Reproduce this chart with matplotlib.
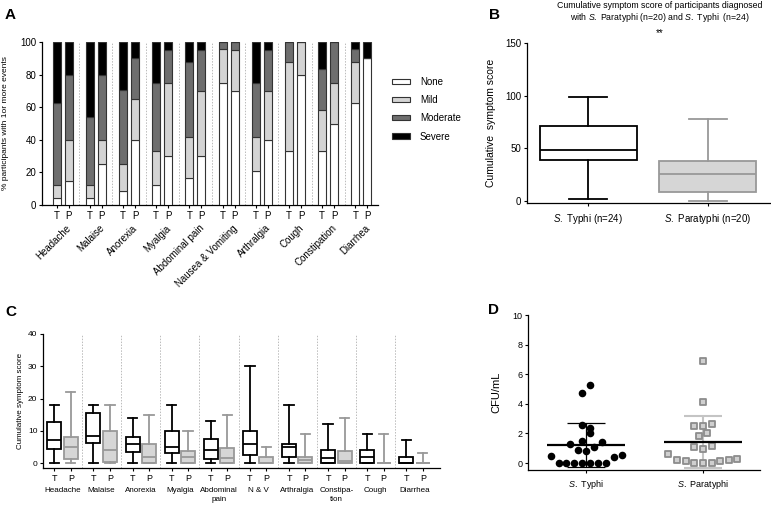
import numpy as np
import pandas as pd
import matplotlib
matplotlib.use("Agg")
import matplotlib.pyplot as plt
from matplotlib.patches import Patch

plt.rcParams['font.family'] = ['Liberation Sans', 'DejaVu Sans']
plt.rcParams['mathtext.fontset'] = 'custom'
plt.rcParams['mathtext.it'] = 'Liberation Sans:italic'
plt.rcParams['mathtext.rm'] = 'Liberation Sans'

# ---------------- Panel A data ----------------
symptoms_A = ['Headache', 'Malaise', 'Anorexia', 'Myalgia', 'Abdominal pain',
              'Nausea & Vomiting', 'Arthralgia', 'Cough', 'Constipation', 'Diarrhea']
severity_levels = ['None', 'Mild', 'Moderate', 'Severe']
T_none = [4.2, 4.2, 8.3, 12.5, 16.7, 75.0, 20.8, 33.3, 33.3, 62.5]
T_mild = [8.3, 8.3, 16.7, 20.8, 25.0, 20.8, 20.9, 54.2, 25.0, 25.0]
T_moderate = [50.0, 41.7, 45.8, 41.7, 45.8, 4.2, 33.3, 12.5, 25.0, 8.3]
T_severe = [37.5, 45.8, 29.2, 25.0, 12.5, 0.0, 25.0, 0.0, 16.7, 4.2]
P_none = [15, 25, 40, 30, 30, 70, 40, 80, 50, 90]
P_mild = [25, 15, 25, 45, 40, 25, 30, 20, 25, 0]
P_moderate = [40, 40, 25, 20, 25, 5, 25, 0, 25, 0]
P_severe = [20, 20, 10, 5, 5, 0, 5, 0, 0, 10]

# ---------------- Panel B data ----------------
groups_B = [r'$\mathit{S.}$ Typhi (n=24)', r'$\mathit{S.}$ Paratyphi (n=20)']
B_whislo = [2, 0]
B_q1 = [39, 9]
B_med = [48, 26]
B_q3 = [71, 38]
B_whishi = [99, 78]

# ---------------- Panel C data ----------------
symptoms_C = ['Headache', 'Malaise', 'Anorexia', 'Myalgia', 'Abdominal\npain',
              'N & V', 'Arthralgia', 'Constipa-\ntion', 'Cough', 'Diarrhea']
CT_whislo = [0, 0, 0, 0, 0, 0, 0, 0, 0, 0]
CT_q1 = [4.2, 6.2, 3.5, 3.0, 1.2, 2.5, 2.0, 0, 0, 0]
CT_med = [7, 8.5, 6, 5, 4, 6, 5, 1.5, 2, 0]
CT_q3 = [12.8, 15.5, 8, 9.8, 7.5, 9.8, 6, 4, 4, 2]
CT_whishi = [18, 18, 14, 18, 13, 30, 18, 12, 9, 7]
CP_whislo = [0, 0, 0, 0, 0, 0, 0, 0, 0, 0]
CP_q1 = [1.2, 0.3, 0, 0, 0, 0, 0, 0, 0, 0]
CP_med = [5, 4, 2, 2, 1.5, 0, 1, 0.5, 0, 0]
CP_q3 = [8, 9.8, 6, 3.8, 4.8, 1.8, 2, 3.8, 0, 0]
CP_whishi = [22, 18, 15, 10, 15, 5, 9, 14, 9, 3]

# ---------------- Panel D data ----------------
groups_D = [r'$\mathit{S.}$ Typhi', r'$\mathit{S.}$ Paratyphi']
D_typhi = [0.48, 0, 0, 0, 0, 0, 0, 0, 0.41, 0.55,
           1.3, 0.89, 0.82, 1.09, 1.41,
           1.5, 2.0, 2.6, 2.4, 4.7, 5.25]
D_paratyphi = [0.59, 0.2, 0.11, 0.02, 0, 0.02, 0.14, 0.2, 0.3,
               1.09, 0.98, 1.18, 1.8, 2.02, 2.52, 2.52, 2.64, 4.11, 6.9]

W, H = 771, 505
fig = plt.figure(figsize=(W / 100, H / 100), dpi=100)


def rect(l, t, r, b):
    return [l / W, 1 - b / H, (r - l) / W, (b - t) / H]


def style(ax, fs=7):
    for s in ['top', 'right']:
        ax.spines[s].set_visible(False)
    for s in ['left', 'bottom']:
        ax.spines[s].set_linewidth(0.9)
    ax.tick_params(length=2.5, width=0.8, labelsize=fs, pad=1.5)


def column_offsets(vals, row_height, step):
    """GraphPad-style column scatter: group values into rows, centre each row."""
    vals = np.asarray(vals, float)
    order = np.argsort(vals, kind='stable')
    rows, cur, start = [], [], None
    for idx in order:
        if start is None or vals[idx] - start > row_height:
            if cur:
                rows.append(cur)
            cur, start = [idx], vals[idx]
        else:
            cur.append(idx)
    rows.append(cur)
    offs = np.zeros(len(vals))
    for r in rows:
        r = sorted(r)  # keep data order within a row
        n = len(r)
        for k, idx in enumerate(r):
            offs[idx] = (k - (n - 1) / 2) * step
    return offs


# ================= Panel A =================
axA = fig.add_axes(rect(42, 42, 378, 205))
style(axA)
x = np.arange(len(symptoms_A))
off, bw = 0.18, 0.24
colors = ['white', '#d4d4d4', '#6e6e6e', 'black']
for xs, segs in [(x - off, [T_none, T_mild, T_moderate, T_severe]),
                 (x + off, [P_none, P_mild, P_moderate, P_severe])]:
    bottom = np.zeros(len(x))
    for seg, c in zip(segs, colors):
        seg = np.array(seg, float)
        axA.bar(xs, seg, bw, bottom=bottom, color=c, edgecolor='#333333',
                linewidth=0.8, zorder=3)
        bottom += seg
for i in range(len(x) - 1):
    axA.axvline(i + 0.5, color='#bbbbbb', lw=0.7, ls=(0, (1.5, 1.5)), zorder=1)
axA.set_xlim(-0.62, 9.5)
axA.set_ylim(0, 100)
axA.set_yticks([0, 20, 40, 60, 80, 100])
ticks = np.sort(np.concatenate([x - off, x + off]))
axA.set_xticks(ticks)
axA.set_xticklabels(['T', 'P'] * len(x), fontsize=7)
for i, name in enumerate(symptoms_A):
    axA.annotate(name, xy=(i + 0.1, 0), xycoords=('data', 'axes fraction'),
                 xytext=(0, -13), textcoords='offset points', ha='right', va='top',
                 rotation=45, rotation_mode='anchor', fontsize=7)
axA.set_ylabel('% participants with 1or more events', fontsize=6, labelpad=8)

fig.legend(handles=[Patch(facecolor=c, edgecolor='#333333', lw=0.8) for c in colors],
           labels=severity_levels, loc='upper left',
           bbox_to_anchor=(383 / W, 1 - 68 / H), frameon=False, fontsize=7,
           handlelength=1.9, handleheight=0.45, labelspacing=0.85, handletextpad=1.0)

# ================= Panel B =================
axB = fig.add_axes(rect(527, 43, 770, 203.3))
style(axB)
statsB = [dict(med=B_med[i], q1=B_q1[i], q3=B_q3[i], whislo=B_whislo[i],
               whishi=B_whishi[i], fliers=[]) for i in range(2)]
for i, (ec, fc) in enumerate([('black', 'white'), ('#999999', '#d6d6d6')]):
    lw = 1.3
    axB.bxp([statsB[i]], positions=[i], widths=0.81, patch_artist=True,
            showfliers=False, capwidths=0.32,
            boxprops=dict(facecolor=fc, edgecolor=ec, linewidth=lw),
            medianprops=dict(color=ec, linewidth=lw),
            whiskerprops=dict(color=ec, linewidth=lw),
            capprops=dict(color=ec, linewidth=lw))
axB.set_xlim(-0.51, 1.52)
axB.set_ylim(-2.2, 150)
axB.set_yticks([0, 50, 100, 150])
axB.set_xticks([0, 1])
axB.set_xticklabels(groups_B, fontsize=7)
axB.tick_params(axis='x', pad=4)
axB.set_ylabel('Cumulative  symptom score', fontsize=7.5, labelpad=7)
fig.text(660 / W, 1 - 0.5 / H,
         'Cumulative symptom score of participants diagnosed\n'
         r'with $\mathit{S.}$ Paratyphi (n=20) and $\mathit{S.}$ Typhi  (n=24)',
         ha='center', va='top', fontsize=6.3, linespacing=1.15)
fig.text(660 / W, 1 - 33 / H, '**', ha='center', va='center', fontsize=7)

# ================= Panel C =================
axC = fig.add_axes(rect(43, 334, 440, 468))
style(axC, fs=6)
xc = np.arange(len(symptoms_C))
offc = 0.21
for xs, (lo, q1, med, q3, hi), ec, fc in [
        (xc - offc, (CT_whislo, CT_q1, CT_med, CT_q3, CT_whishi), 'black', 'white'),
        (xc + offc, (CP_whislo, CP_q1, CP_med, CP_q3, CP_whishi), '#999999', '#d6d6d6')]:
    stats = [dict(med=med[i], q1=q1[i], q3=q3[i], whislo=lo[i], whishi=hi[i],
                  fliers=[]) for i in range(len(xc))]
    axC.bxp(stats, positions=xs, widths=0.36, patch_artist=True, showfliers=False,
            capwidths=0.24,
            boxprops=dict(facecolor=fc, edgecolor=ec, linewidth=1.3),
            medianprops=dict(color=ec, linewidth=1.3),
            whiskerprops=dict(color=ec, linewidth=1.3),
            capprops=dict(color=ec, linewidth=1.3))
for i in range(len(xc) - 1):
    axC.axvline(i + 0.5, color='#bbbbbb', lw=0.7, ls=(0, (1.5, 1.5)), zorder=0)
axC.set_xlim(-0.5, 9.65)
axC.set_ylim(-1.55, 40)
axC.set_yticks([0, 10, 20, 30, 40])
ticksC = np.sort(np.concatenate([xc - offc, xc + offc]))
axC.set_xticks(ticksC)
axC.set_xticklabels(['T', 'P'] * len(xc), fontsize=6.5)
for i, name in enumerate(symptoms_C):
    axC.annotate(name, xy=(i, 0), xycoords=('data', 'axes fraction'),
                 xytext=(0, -14), textcoords='offset points', ha='center', va='top',
                 fontsize=5.8, linespacing=1.25)
axC.set_ylabel('Cumulative symptom score', fontsize=5.8, labelpad=3)

# ================= Panel D =================
axD = fig.add_axes(rect(528, 315, 760, 470))
style(axD, fs=6.5)
offT = column_offsets(D_typhi, 0.6, 0.068)
offP = column_offsets(D_paratyphi, 0.6, 0.074)
axD.scatter(0 + offT, D_typhi, s=30, marker='o', color='black', linewidths=0,
            zorder=3)
axD.scatter(1 + offP, D_paratyphi, s=24, marker='s', facecolor='#cfcfcf',
            edgecolor='#8c8c8c', linewidths=1.3, zorder=3)
for i, (vals, ec, elw) in enumerate([(D_typhi, 'black', 0.9),
                                     (D_paratyphi, '#c4c4c4', 1.5)]):
    m = np.mean(vals)
    sd = np.std(vals, ddof=1)
    axD.errorbar([i], [m], yerr=[sd], color=ec, lw=elw, capsize=14,
                 capthick=elw, zorder=2)
    axD.hlines(m, i - 0.335, i + 0.335, color='black', lw=1.6, zorder=4)
axD.set_xlim(-0.5, 1.49)
axD.set_ylim(-0.47, 10)
axD.set_yticks([0, 2, 4, 6, 8, 10])
axD.set_xticks([0, 1])
axD.set_xticklabels(groups_D, fontsize=6.5)
axD.tick_params(axis='x', pad=3)
axD.set_ylabel('CFU/mL', fontsize=8, labelpad=8)

# panel letters
for lab, px, py in [('A', 5, 15), ('B', 489, 15), ('C', 5, 312), ('D', 488, 310)]:
    fig.text(px / W, 1 - py / H, lab, fontsize=11, fontweight='bold',
             ha='left', va='center')

fig.savefig('out.png', dpi=100)
